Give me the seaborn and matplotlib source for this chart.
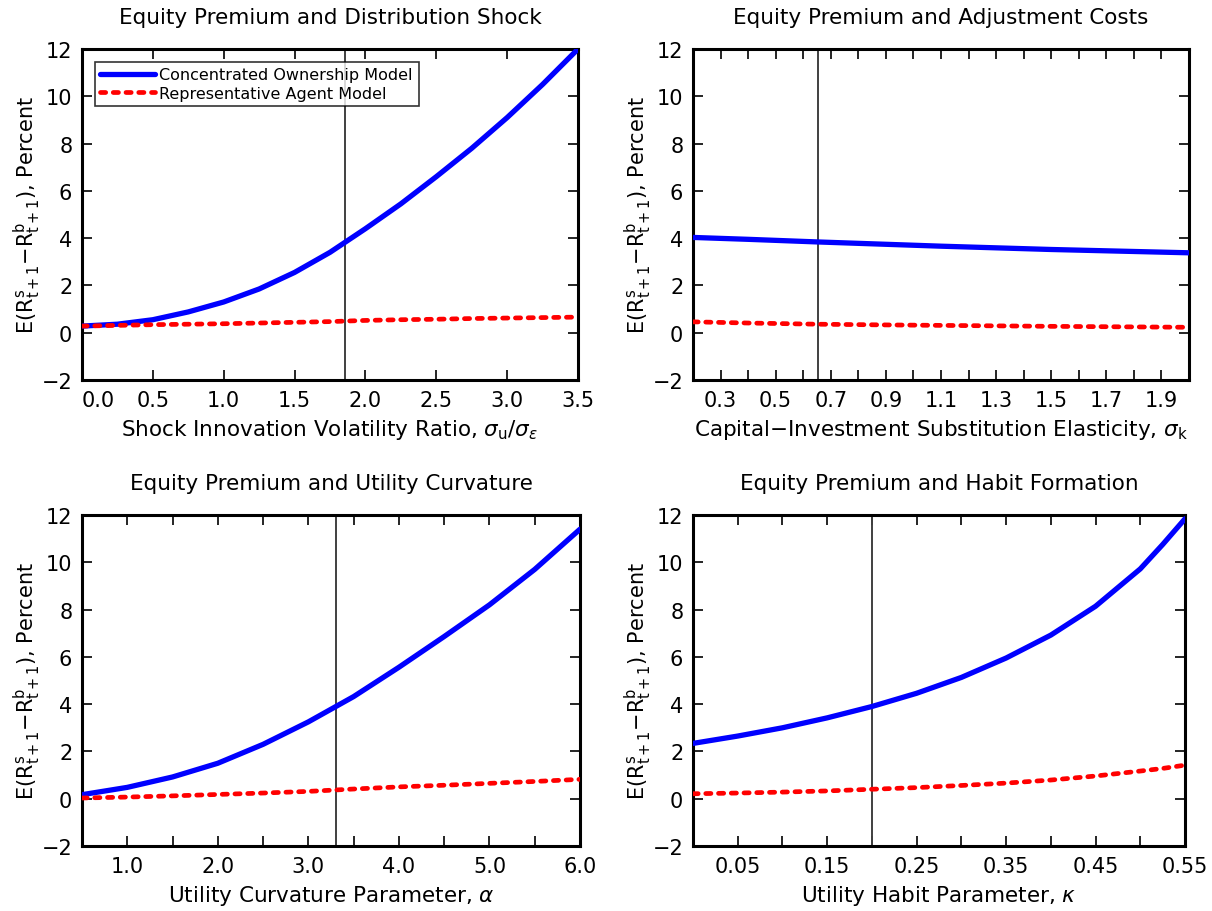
import matplotlib
matplotlib.use("Agg")
import matplotlib.pyplot as plt
import seaborn as sns
import numpy as np
import pandas as pd

# ---------------- data ----------------
# Panel 1: distribution shock
p1_x = [0.0, 0.25, 0.5, 0.75, 1.0, 1.25, 1.5, 1.75, 2.0, 2.25, 2.5, 2.75, 3.0, 3.25, 3.5]
p1_conc = [0.28, 0.36, 0.55, 0.88, 1.3, 1.85, 2.55, 3.4, 4.4, 5.45, 6.6, 7.8, 9.1, 10.5, 12.0]
p1_rep = [0.28, 0.31, 0.34, 0.36, 0.38, 0.41, 0.44, 0.47, 0.52, 0.55, 0.57, 0.60, 0.62, 0.64, 0.66]
p1_vline = 1.856

# Panel 2: adjustment costs
p2_x = [0.2, 0.4, 0.65, 0.9, 1.1, 1.3, 1.5, 1.75, 2.0]
p2_conc = [4.03, 3.95, 3.84, 3.74, 3.66, 3.59, 3.52, 3.45, 3.38]
p2_rep = [0.46, 0.41, 0.36, 0.33, 0.31, 0.29, 0.27, 0.25, 0.23]
p2_vline = 0.652

# Panel 3: utility curvature
p3_x = [0.5, 1.0, 1.5, 2.0, 2.5, 3.0, 3.5, 4.0, 4.5, 5.0, 5.5, 6.0]
p3_conc = [0.17, 0.48, 0.92, 1.5, 2.3, 3.25, 4.32, 5.56, 6.86, 8.2, 9.7, 11.4]
p3_rep = [0.03, 0.07, 0.12, 0.18, 0.24, 0.31, 0.41, 0.5, 0.57, 0.65, 0.73, 0.82]
p3_vline = 3.3

# Panel 4: habit formation
p4_x = [0.0, 0.05, 0.1, 0.15, 0.2, 0.25, 0.3, 0.35, 0.4, 0.45, 0.5, 0.525, 0.55]
p4_conc = [2.34, 2.65, 3.0, 3.42, 3.9, 4.46, 5.13, 5.95, 6.92, 8.14, 9.72, 10.75, 11.84]
p4_rep = [0.21, 0.24, 0.28, 0.33, 0.40, 0.47, 0.56, 0.66, 0.79, 0.96, 1.17, 1.28, 1.42]
p4_vline = 0.2005

titles = ["Equity Premium and Distribution Shock",
          "Equity Premium and Adjustment Costs",
          "Equity Premium and Utility Curvature",
          "Equity Premium and Habit Formation"]
xlabels = [r"Shock Innovation Volatility Ratio, $\sigma_{\rm u}/\sigma_{\varepsilon}$",
           r"Capital$-$Investment Substitution Elasticity, $\sigma_{\rm k}$",
           r"Utility Curvature Parameter, $\alpha$",
           r"Utility Habit Parameter, $\kappa$"]
ylabel = r"E(R$^{\rm s}_{\rm t+1}$$-$R$^{\rm b}_{\rm t+1}$), Percent"
series_names = ["Concentrated Ownership Model", "Representative Agent Model"]

p1_ticks = [0.0, 0.5, 1.0, 1.5, 2.0, 2.5, 3.0, 3.5]
p1_labels = ["0.0", "0.5", "1.0", "1.5", "2.0", "2.5", "3.0", "3.5"]
p2_ticks = [0.2, 0.3, 0.4, 0.5, 0.6, 0.7, 0.8, 0.9, 1.0, 1.1, 1.2, 1.3, 1.4, 1.5, 1.6, 1.7, 1.8, 1.9, 2.0]
p2_labels = ["", "0.3", "", "0.5", "", "0.7", "", "0.9", "", "1.1", "", "1.3", "", "1.5", "", "1.7", "", "1.9", ""]
p3_ticks = [0.5, 1.0, 1.5, 2.0, 2.5, 3.0, 3.5, 4.0, 4.5, 5.0, 5.5, 6.0]
p3_labels = ["", "1.0", "", "2.0", "", "3.0", "", "4.0", "", "5.0", "", "6.0"]
p4_ticks = [0.0, 0.05, 0.10, 0.15, 0.20, 0.25, 0.30, 0.35, 0.40, 0.45, 0.50, 0.55]
p4_labels = ["", "0.05", "", "0.15", "", "0.25", "", "0.35", "", "0.45", "", "0.55"]
y_ticks = [-2, 0, 2, 4, 6, 8, 10, 12]
y_labels = ["\u22122", "0", "2", "4", "6", "8", "10", "12"]

# ---------------- style ----------------
sns.set_style("ticks")
plt.rcParams["font.family"] = ["DejaVu Sans"]
plt.rcParams["mathtext.fontset"] = "dejavusans"
plt.rcParams["axes.unicode_minus"] = True
plt.rcParams["text.color"] = "black"
plt.rcParams["axes.labelcolor"] = "black"
plt.rcParams["xtick.color"] = "black"
plt.rcParams["ytick.color"] = "black"

W, H = 1212, 912
fig = plt.figure(figsize=(W / 100, H / 100), dpi=100)

boxes = [(82, 50, 578, 381), (693, 50, 1189, 381),
         (82, 516, 580, 847), (693, 516, 1185, 847)]

panels = [
    (p1_x, p1_conc, p1_rep, p1_vline, (0.0, 3.5), p1_ticks, p1_labels),
    (p2_x, p2_conc, p2_rep, p2_vline, (0.2, 2.0), p2_ticks, p2_labels),
    (p3_x, p3_conc, p3_rep, p3_vline, (0.5, 6.0), p3_ticks, p3_labels),
    (p4_x, p4_conc, p4_rep, p4_vline, (0.0, 0.55), p4_ticks, p4_labels),
]

for i, (box, pan) in enumerate(zip(boxes, panels)):
    x0, y0, x1, y1 = box
    ax = fig.add_axes([x0 / W, 1 - y1 / H, (x1 - x0) / W, (y1 - y0) / H])
    xs, yc, yr, vl, xlim, xt, xtl = pan
    ax.axvline(vl, color="#404040", lw=1.4, zorder=1)
    df = pd.DataFrame({"x": xs, "conc": yc, "rep": yr})
    sns.lineplot(data=df, x="x", y="conc", ax=ax, color="#0000ff", lw=3.8,
                 solid_capstyle="round", solid_joinstyle="round",
                 label=series_names[0], zorder=3)
    sns.lineplot(data=df, x="x", y="rep", ax=ax, color="#ff0000", lw=3.4,
                 linestyle=(0, (1.1, 1.6)), dash_capstyle="round",
                 label=series_names[1], zorder=4)
    ax.set_xlim(*xlim)
    ax.set_ylim(-2, 12)
    ax.set_xticks(xt)
    ax.set_xticklabels(xtl)
    ax.set_yticks(y_ticks)
    ax.set_yticklabels(y_labels)
    ax.tick_params(direction="in", top=True, right=True, length=7, width=1.2,
                   labelsize=15, pad=7, colors="black")
    for s in ax.spines.values():
        s.set_linewidth(2.2)
        s.set_color("black")
        s.set_visible(True)
    ax.set_title(titles[i], fontsize=15.5, pad=19, color="black")
    ax.set_xlabel(xlabels[i], fontsize=15.5, labelpad=5, color="black")
    ax.set_ylabel(ylabel, fontsize=15, labelpad=-1, color="black")
    ax.set_facecolor("white")
    if i == 0:
        ax.get_xticklabels()[0].set_horizontalalignment("left")
        leg = ax.legend(loc="upper left", fontsize=11.5, frameon=True, fancybox=False,
                        borderaxespad=0.8, handlelength=3.4, handletextpad=0.3,
                        borderpad=0.35, labelspacing=0.2)
        leg.get_frame().set_edgecolor("black")
        leg.get_frame().set_linewidth(1.2)
        for t in leg.get_texts():
            t.set_color("black")
    else:
        lg = ax.get_legend()
        if lg is not None:
            lg.remove()

fig.savefig("out.png", dpi=100, facecolor="white")
